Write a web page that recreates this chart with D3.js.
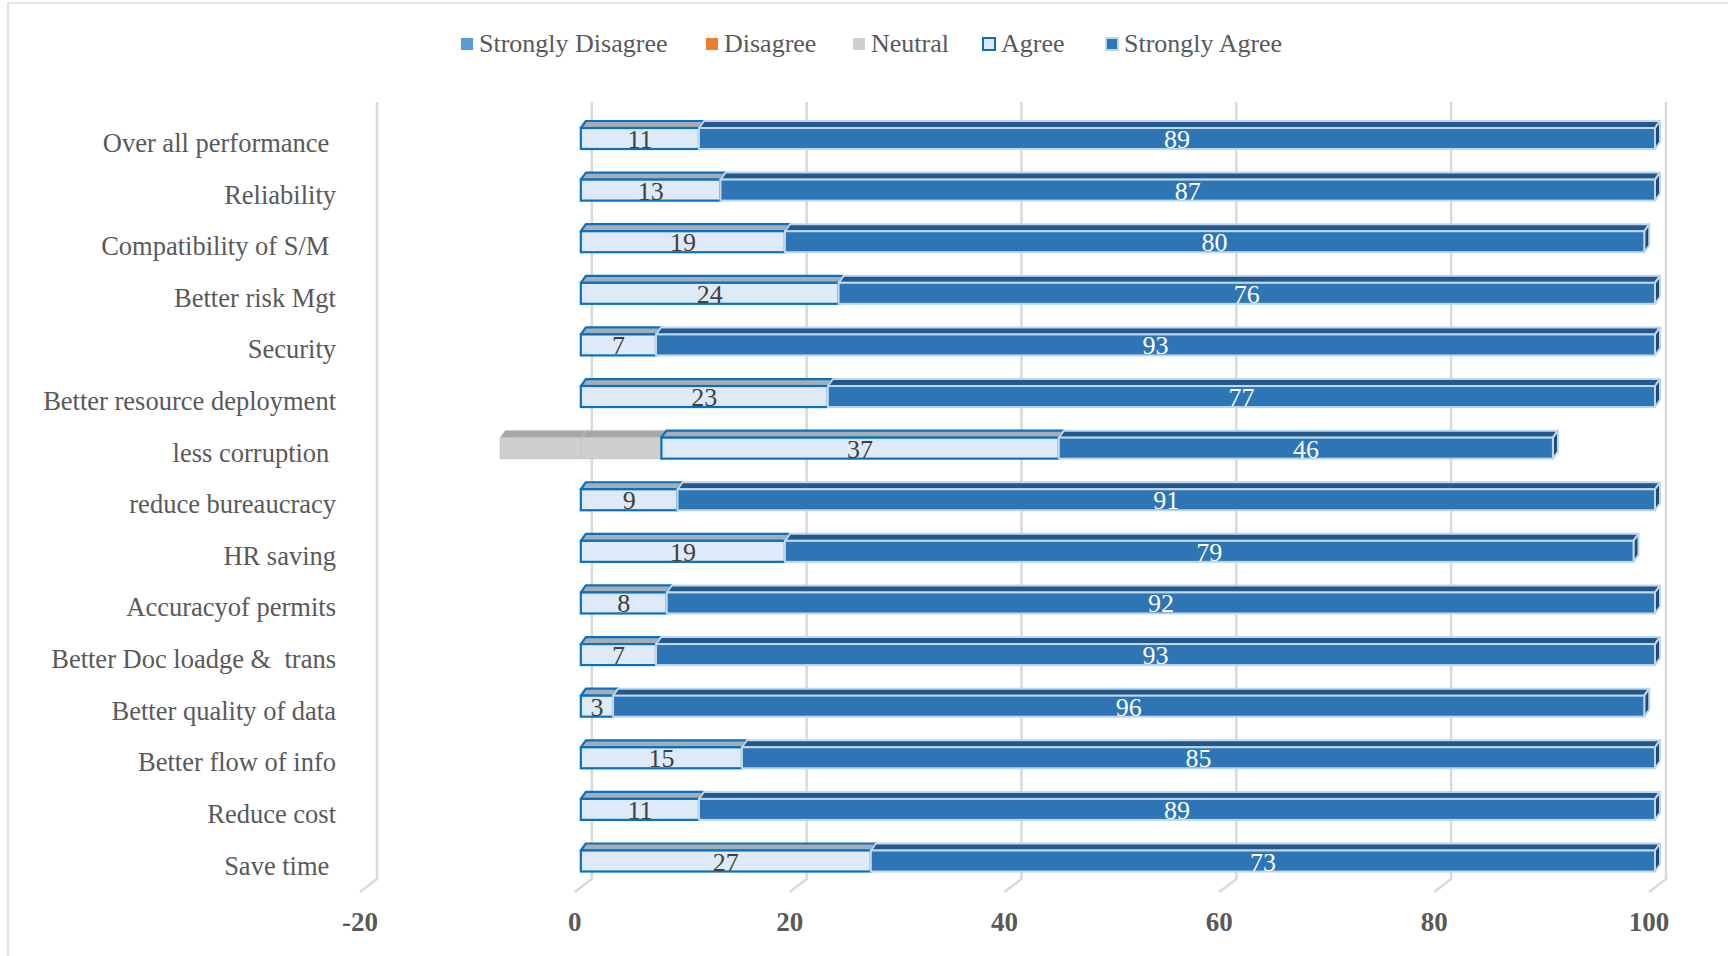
<!DOCTYPE html>
<html>
<head>
<meta charset="utf-8">
<script src="https://cdn.jsdelivr.net/npm/d3@7/dist/d3.min.js"></script>
<style>
  html, body { margin: 0; padding: 0; background: #fff; }
  svg text { font-family: "Liberation Serif", "Times New Roman", serif; white-space: pre; }
</style>
</head>
<body>
<svg id="chart" width="1728" height="956"></svg>
<script>
// Survey responses (%) per benefit, top to bottom
const categories = [
  "Over all performance ", "Reliability", "Compatibility of S/M ", "Better risk Mgt",
  "Security", "Better resource deployment", "less corruption ", "reduce bureaucracy",
  "HR saving", "Accuracyof permits", "Better Doc loadge &  trans", "Better quality of data",
  "Better flow of info", "Reduce cost", "Save time "
];
const stronglyDisagree = [0, 0, 0, 0, 0, 0, 0, 0, 0, 0, 0, 0, 0, 0, 0];
const disagree         = [0, 0, 0, 0, 0, 0, 0, 0, 0, 0, 0, 0, 0, 0, 0];
const neutral          = [0, 0, 0, 0, 0, 0, 15, 0, 0, 0, 0, 0, 0, 0, 0];
const agree            = [11, 13, 19, 24, 7, 23, 37, 9, 19, 8, 7, 3, 15, 11, 27];
const stronglyAgree    = [89, 87, 80, 76, 93, 77, 46, 91, 79, 92, 93, 96, 85, 89, 73];
const xTicks = [-20, 0, 20, 40, 60, 80, 100];
const legendNames = ["Strongly Disagree", "Disagree", "Neutral", "Agree", "Strongly Agree"];

const svg = d3.select("#chart");

// chart area frame
svg.append("rect").attr("x", 8).attr("y", 3).attr("width", 1740).attr("height", 980)
  .attr("fill", "none").attr("stroke", "#d9d9d9").attr("stroke-width", 1.5);

const x = d3.scaleLinear().domain([-20, 100]).range([360, 1649]);
const y = d3.scalePoint().domain(categories).range([138.5, 861]);

// 3D projection offsets
const wallDx = 17, wallTop = 102, wallBottom = 879, floorY = 892;
const barH = 21, depthX = 5, depthY = 7, barShift = 6;

// back-wall gridlines with floor diagonals
const grid = svg.append("g");
xTicks.forEach(t => {
  const xf = x(t), xb = x(t) + wallDx;
  grid.append("path")
    .attr("d", `M${xb},${wallTop} L${xb},${wallBottom} L${xf},${floorY}`)
    .attr("fill", "none").attr("stroke", "#d9d9d9").attr("stroke-width", 2.5);
});

// tick labels
svg.append("g").selectAll("text").data(xTicks).join("text")
  .attr("x", d => x(d)).attr("y", 931)
  .attr("text-anchor", "middle")
  .attr("font-size", 27).attr("font-weight", "bold").attr("fill", "#595959")
  .text(d => d);

// category labels
svg.append("g").selectAll("text").data(categories).join("text")
  .attr("x", 336).attr("y", d => y(d) + 13.5)
  .attr("text-anchor", "end")
  .attr("font-size", 26.5).attr("fill", "#595959")
  .text(d => d);

const styles = {
  neutral: { front: "#d0cece", top: "#a6a6a6", side: "#8c8c8c", stroke: "#c4c2c2", sw: 1 },
  agree:   { front: "#deeaf7", top: "#a7adb4", side: "#7f9fbf", stroke: "#0a70c0", sw: 2.2 },
  sagree:  { front: "#2e75b6", top: "#24578c", side: "#1d4a78", stroke: "#bdd7ee", sw: 2 }
};

function drawSegment(g, v0, v1, cy, st, withSide) {
  const x0 = x(v0) + barShift, x1 = x(v1) + barShift;
  const top = cy - barH / 2, bot = cy + barH / 2;
  // top face
  g.append("path")
    .attr("d", `M${x0},${top} L${x0 + depthX},${top - depthY} L${x1 + depthX},${top - depthY} L${x1},${top} Z`)
    .attr("fill", st.top).attr("stroke", st.stroke).attr("stroke-width", st.sw).attr("stroke-linejoin", "round");
  // end face
  if (withSide) {
    g.append("path")
      .attr("d", `M${x1},${top} L${x1 + depthX},${top - depthY} L${x1 + depthX},${bot - depthY} L${x1},${bot} Z`)
      .attr("fill", st.side).attr("stroke", st.stroke).attr("stroke-width", st.sw).attr("stroke-linejoin", "round");
  }
  // front face
  g.append("rect")
    .attr("x", x0).attr("y", top).attr("width", x1 - x0).attr("height", barH)
    .attr("fill", st.front).attr("stroke", st.stroke).attr("stroke-width", st.sw);
}

const bars = svg.append("g");
categories.forEach((c, i) => {
  const cy = y(c);
  const g = bars.append("g");
  const half = neutral[i] / 2;
  if (neutral[i] > 0) {
    drawSegment(g, -half, 0, cy, styles.neutral, false);
    drawSegment(g, 0, half, cy, styles.neutral, false);
  }
  const a0 = half, a1 = half + agree[i];
  const s1 = a1 + stronglyAgree[i];
  drawSegment(g, a0, a1, cy, styles.agree, false);
  drawSegment(g, a1, s1, cy, styles.sagree, true);

  g.append("text")
    .attr("x", (x(a0) + x(a1)) / 2 + barShift).attr("y", cy + 9.5)
    .attr("text-anchor", "middle").attr("font-size", 26).attr("fill", "#404040")
    .text(agree[i]);
  g.append("text")
    .attr("x", (x(a1) + x(s1)) / 2 + barShift).attr("y", cy + 9.5)
    .attr("text-anchor", "middle").attr("font-size", 26).attr("fill", "#ffffff")
    .text(stronglyAgree[i]);
});

// legend
const legendX = [460, 705, 852, 982, 1105];
const legend = svg.append("g");
const markers = [
  { fill: "#5b9bd5", stroke: "none" },
  { fill: "#ed7d31", stroke: "none" },
  { fill: "#d0cece", stroke: "none" },
  { fill: "#deeaf7", stroke: "#0a70c0" },
  { fill: "#2e75b6", stroke: "#bdd7ee" }
];
legendNames.forEach((name, i) => {
  const m = markers[i];
  legend.append("rect")
    .attr("x", legendX[i] + 1).attr("y", 38).attr("width", 12).attr("height", 12)
    .attr("fill", m.fill).attr("stroke", m.stroke).attr("stroke-width", 2);
  legend.append("text")
    .attr("x", legendX[i] + 19).attr("y", 52)
    .attr("font-size", 26).attr("fill", "#595959")
    .text(name);
});
</script>
</body>
</html>
